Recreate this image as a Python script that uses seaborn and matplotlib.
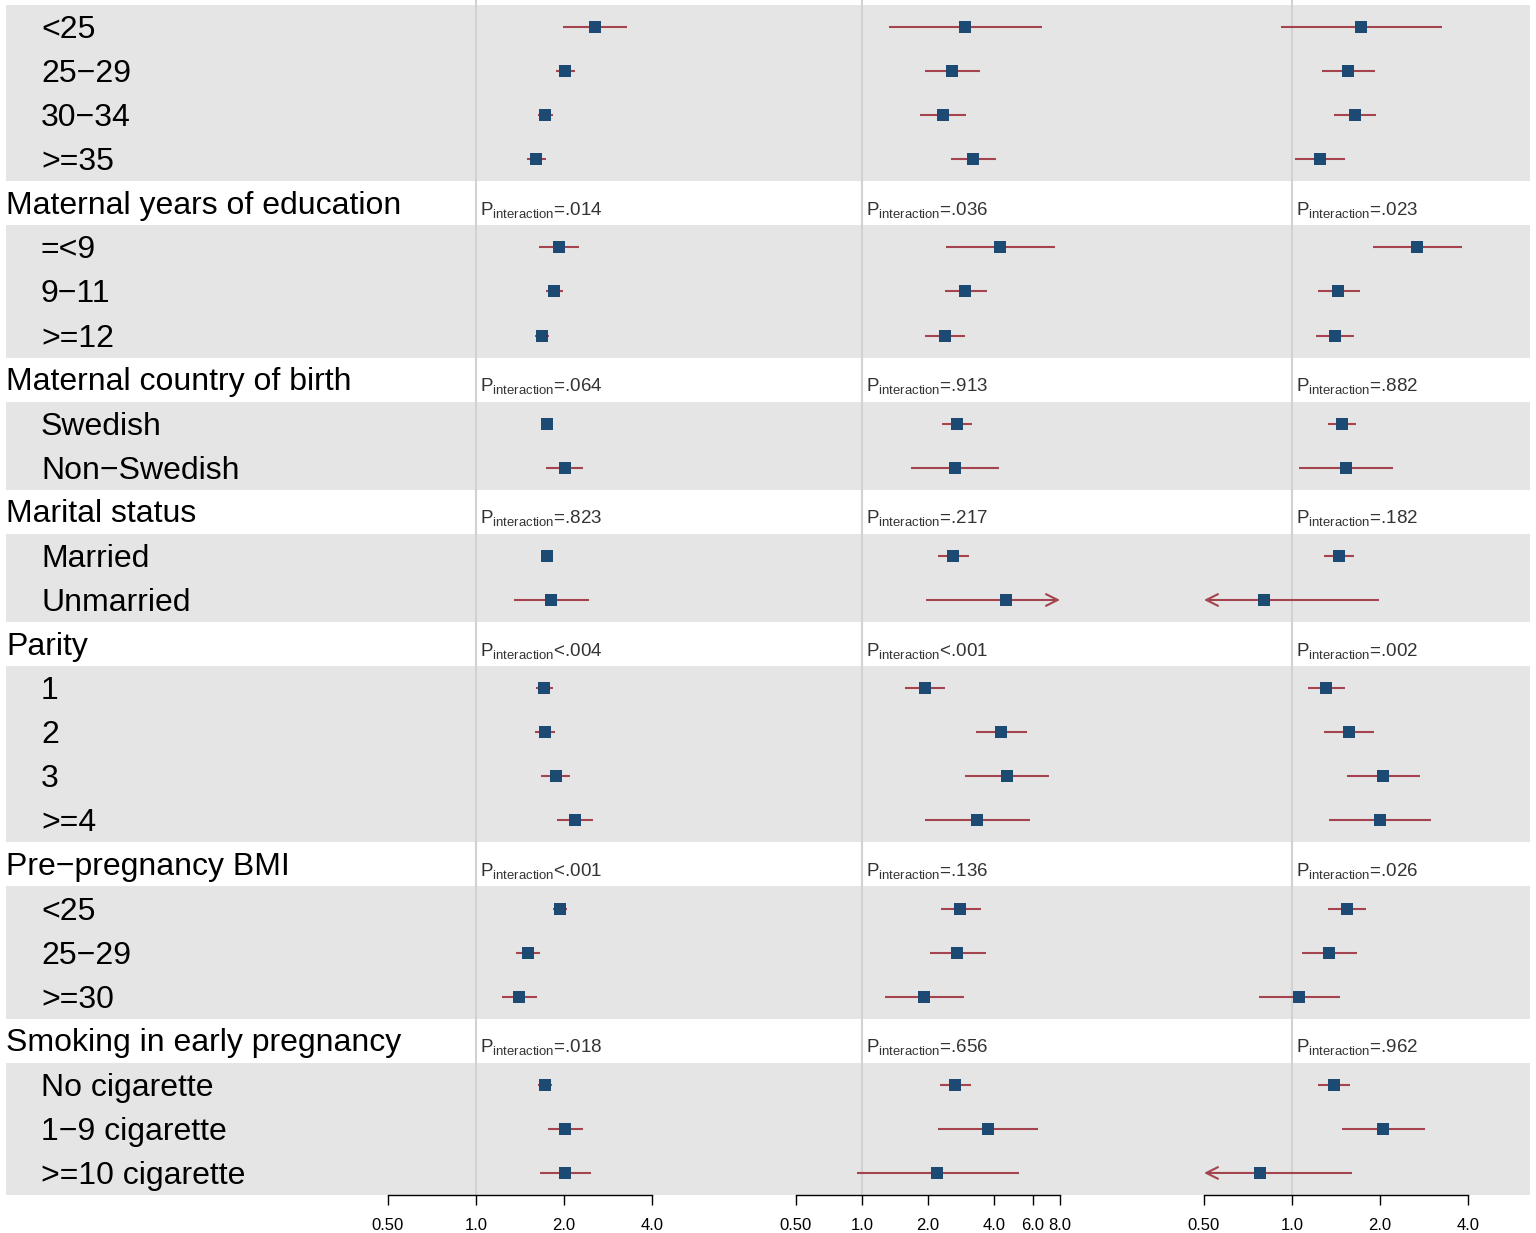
import numpy as np
import pandas as pd
import matplotlib
matplotlib.use("Agg")
import matplotlib.pyplot as plt
from matplotlib.ticker import NullLocator
import seaborn as sns

# ---------------- data ----------------
groups = ["Maternal age at delivery", "Maternal years of education",
          "Maternal country of birth", "Marital status", "Parity",
          "Pre\u2212pregnancy BMI", "Smoking in early pregnancy"]
group_items = [
    ["<25", "25\u221229", "30\u221234", ">=35"],
    ["=<9", "9\u221211", ">=12"],
    ["Swedish", "Non\u2212Swedish"],
    ["Married", "Unmarried"],
    ["1", "2", "3", ">=4"],
    ["<25", "25\u221229", ">=30"],
    ["No cigarette", "1\u22129 cigarette", ">=10 cigarette"],
]

p1_or = [2.55, 2.02, 1.72, 1.60, 1.92, 1.85, 1.68, 1.75, 2.02, 1.75, 1.80,
         1.71, 1.72, 1.88, 2.18, 1.94, 1.51, 1.40, 1.72, 2.02, 2.02]
p1_lo = [1.98, 1.88, 1.63, 1.49, 1.64, 1.74, 1.59, 1.67, 1.74, 1.67, 1.35,
         1.60, 1.59, 1.67, 1.89, 1.83, 1.37, 1.23, 1.63, 1.76, 1.65]
p1_hi = [3.28, 2.18, 1.83, 1.74, 2.25, 1.98, 1.78, 1.83, 2.32, 1.83, 2.44,
         1.83, 1.86, 2.10, 2.51, 2.05, 1.65, 1.62, 1.82, 2.32, 2.47]

p2_or = [2.95, 2.57, 2.34, 3.21, 4.26, 2.95, 2.39, 2.71, 2.65, 2.60, 4.54,
         1.94, 4.30, 4.59, 3.35, 2.80, 2.71, 1.92, 2.65, 3.76, 2.20]
p2_lo = [1.33, 1.94, 1.84, 2.55, 2.42, 2.39, 1.94, 2.32, 1.67, 2.22, 1.96,
         1.57, 3.31, 2.95, 1.94, 2.29, 2.04, 1.27, 2.27, 2.22, 0.95]
p2_hi = [6.62, 3.45, 2.98, 4.08, 7.59, 3.72, 2.95, 3.17, 4.22, 3.07, 10.5,
         2.39, 5.66, 7.13, 5.84, 3.49, 3.68, 2.92, 3.14, 6.35, 5.20]

p3_or = [1.72, 1.55, 1.64, 1.25, 2.68, 1.44, 1.40, 1.48, 1.53, 1.45, 0.80,
         1.31, 1.57, 2.05, 2.00, 1.54, 1.34, 1.06, 1.39, 2.05, 0.78]
p3_lo = [0.92, 1.27, 1.39, 1.02, 1.89, 1.23, 1.21, 1.33, 1.06, 1.29, 0.40,
         1.13, 1.29, 1.54, 1.34, 1.33, 1.08, 0.77, 1.23, 1.48, 0.38]
p3_hi = [3.26, 1.92, 1.94, 1.52, 3.82, 1.71, 1.63, 1.65, 2.22, 1.63, 1.98,
         1.52, 1.91, 2.74, 2.99, 1.79, 1.67, 1.46, 1.58, 2.85, 1.60]

p1_pint = [None, "=.014", "=.064", "=.823", "<.004", "<.001", "=.018"]
p2_pint = [None, "=.036", "=.913", "=.217", "<.001", "=.136", "=.656"]
p3_pint = [None, "=.023", "=.882", "=.182", "=.002", "=.026", "=.962"]

p1_ticks = [0.5, 1.0, 2.0, 4.0]
p1_labels = ["0.50", "1.0", "2.0", "4.0"]
p2_ticks = [0.5, 1.0, 2.0, 4.0, 6.0, 8.0]
p2_labels = ["0.50", "1.0", "2.0", "4.0", "6.0", "8.0"]
p3_ticks = [0.5, 1.0, 2.0, 4.0]
p3_labels = ["0.50", "1.0", "2.0", "4.0"]

# ---------------- style ----------------
sns.set_theme(style="white")
plt.rcParams["font.family"] = ["Liberation Sans", "DejaVu Sans"]
plt.rcParams["mathtext.default"] = "regular"
plt.rcParams["mathtext.fontset"] = "custom"
plt.rcParams["mathtext.rm"] = "Liberation Sans"

BAND = "#e5e5e5"
SQ = "#1d4a72"
CI = "#a3444e"
REF = "#d2d2d2"

W, H = 1536, 1233
fig = plt.figure(figsize=(W / 100, H / 100), dpi=100)
fig.patch.set_facecolor("white")

# row layout (row units, inverted)
header_rows, item_rows, item_labels = [], [], []
r = 0
for g, items in zip(groups, group_items):
    header_rows.append(r)
    r += 1
    for it in items:
        item_rows.append(r)
        item_labels.append(it)
        r += 1
YLIM = (27.5, 0.3875)

def px_rect(x0, x1, y_top=0, y_bot=1195):
    return [x0 / W, (H - y_bot) / H, (x1 - x0) / W, (y_bot - y_top) / H]

# background axes with bands and labels
bg = fig.add_axes(px_rect(6, 1530))
bg.set_xlim(0, 1)
bg.set_ylim(*YLIM)
bg.axis("off")
for hr, items in zip(header_rows, group_items):
    a = hr + 1
    b = hr + len(items)
    bg.axhspan(a - 0.5, b + 0.5, color=BAND, lw=0, zorder=0)
for hr, g in zip(header_rows, groups):
    bg.text(0.0, hr + 0.24, g, fontsize=23, va="baseline", ha="left",
            color="black", clip_on=False)
for ir, lab in zip(item_rows, item_labels):
    bg.text(35 / 1524, ir + 0.25, lab, fontsize=23, va="baseline", ha="left",
            color="black")

panels = [
    (388, 652, (0.5, 4.0), p1_or, p1_lo, p1_hi, p1_pint, p1_ticks, p1_labels),
    (796, 1060, (0.5, 8.0), p2_or, p2_lo, p2_hi, p2_pint, p2_ticks, p2_labels),
    (1204, 1468, (0.5, 4.0), p3_or, p3_lo, p3_hi, p3_pint, p3_ticks, p3_labels),
]

ARROW = "->,head_length=0.7,head_width=0.35"

for x0, x1, xl, orv, lo, hi, pint, ticks, labels in panels:
    ax = fig.add_axes(px_rect(x0, x1))
    ax.set_facecolor("none")
    ax.set_xscale("log")
    ax.set_xlim(*xl)
    ax.set_ylim(*YLIM)
    for s in ["top", "right", "left"]:
        ax.spines[s].set_visible(False)
    ax.spines["bottom"].set_color("black")
    ax.spines["bottom"].set_linewidth(1.0)
    ax.set_yticks([])
    ax.set_xticks(ticks, labels=labels)
    ax.xaxis.set_minor_locator(NullLocator())
    ax.tick_params(axis="x", direction="out", length=7.2, width=1.0,
                   color="black", pad=9, labelsize=12, labelcolor="black",
                   bottom=True)
    ax.axvline(1.0, color=REF, lw=1.5, zorder=0)

    df = pd.DataFrame({"row": item_rows, "or": orv, "lo": lo, "hi": hi})
    for _, rw in df.iterrows():
        l, h = rw["lo"], rw["hi"]
        if l < xl[0]:
            ax.hlines(rw["row"], rw["or"], h, color=CI, lw=1.5, zorder=2)
            ax.annotate("", xy=(xl[0], rw["row"]), xytext=(rw["or"], rw["row"]),
                        arrowprops=dict(arrowstyle=ARROW, color=CI, lw=1.5,
                                        shrinkA=0, shrinkB=0),
                        annotation_clip=False, zorder=2)
        elif h > xl[1]:
            ax.hlines(rw["row"], l, rw["or"], color=CI, lw=1.5, zorder=2)
            ax.annotate("", xy=(xl[1], rw["row"]), xytext=(rw["or"], rw["row"]),
                        arrowprops=dict(arrowstyle=ARROW, color=CI, lw=1.5,
                                        shrinkA=0, shrinkB=0),
                        annotation_clip=False, zorder=2)
        else:
            ax.hlines(rw["row"], l, h, color=CI, lw=1.5, zorder=2)
    sns.scatterplot(data=df, x="or", y="row", marker="s", s=66, color=SQ,
                    linewidth=0, ax=ax, zorder=3, legend=False)
    ax.set_xlabel("")
    ax.set_ylabel("")
    ax.set_ylim(*YLIM)
    ax.set_xlim(*xl)

    for hr, p in zip(header_rows, pint):
        if p is None:
            continue
        ax.annotate("P$_{interaction}$" + p, xy=(1.0, hr + 0.26),
                    xytext=(4, 0), textcoords="offset pixels",
                    fontsize=13.5, color="#333333", ha="left", va="baseline",
                    annotation_clip=False)

fig.savefig("out.png", dpi=100, facecolor="white")
